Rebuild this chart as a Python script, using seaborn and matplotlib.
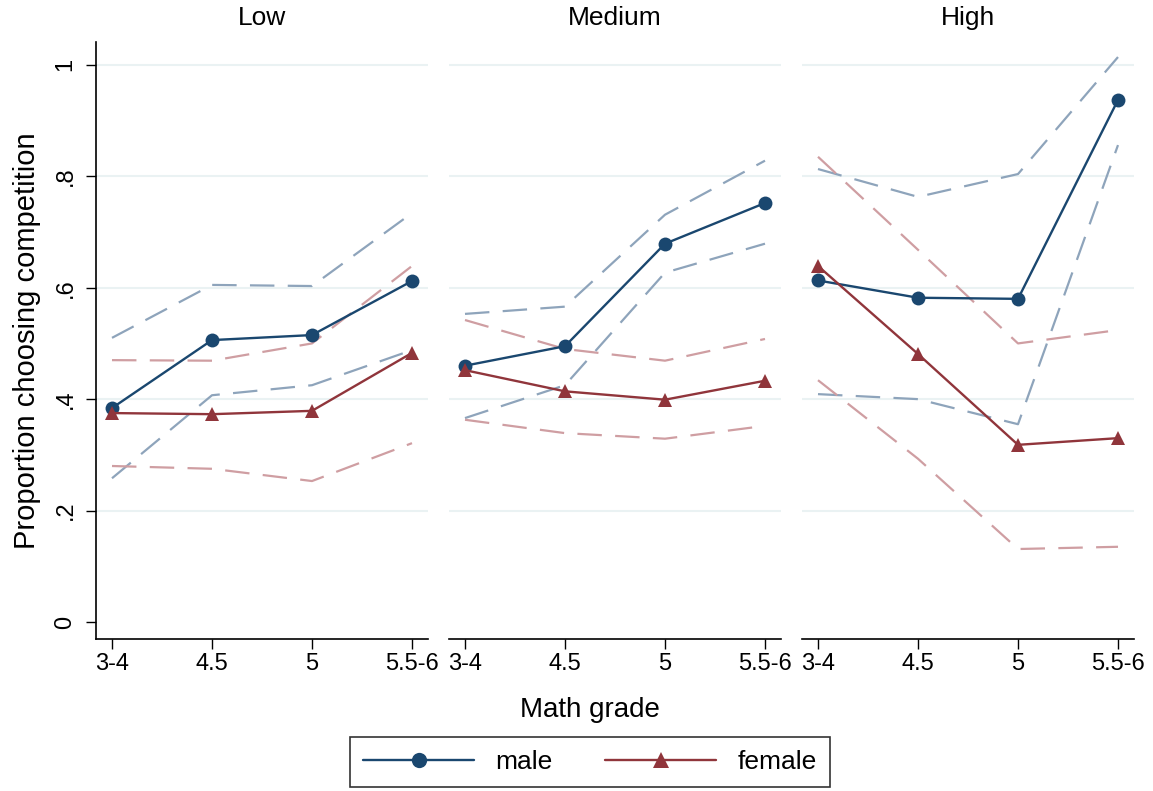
import matplotlib
matplotlib.use("Agg")
import matplotlib.pyplot as plt
from matplotlib.lines import Line2D
import seaborn as sns
import pandas as pd

grades = ["3-4", "4.5", "5", "5.5-6"]
panels = ["Low", "Medium", "High"]

male_mean = {
    "Low": [0.384, 0.506, 0.515, 0.612],
    "Medium": [0.460, 0.495, 0.679, 0.752],
    "High": [0.613, 0.582, 0.580, 0.937],
}
male_lo = {
    "Low": [0.258, 0.407, 0.425, 0.488],
    "Medium": [0.366, 0.425, 0.627, 0.679],
    "High": [0.409, 0.400, 0.355, 0.856],
}
male_hi = {
    "Low": [0.510, 0.605, 0.603, 0.734],
    "Medium": [0.553, 0.566, 0.731, 0.828],
    "High": [0.813, 0.763, 0.804, 1.014],
}
female_mean = {
    "Low": [0.375, 0.373, 0.379, 0.483],
    "Medium": [0.452, 0.414, 0.399, 0.433],
    "High": [0.639, 0.481, 0.318, 0.330],
}
female_lo = {
    "Low": [0.280, 0.275, 0.253, 0.321],
    "Medium": [0.363, 0.339, 0.329, 0.352],
    "High": [0.434, 0.293, 0.131, 0.135],
}
female_hi = {
    "Low": [0.470, 0.469, 0.500, 0.639],
    "Medium": [0.542, 0.490, 0.469, 0.508],
    "High": [0.835, 0.668, 0.500, 0.524],
}

rows = []
for p in panels:
    for sex, m, lo, hi in [("male", male_mean, male_lo, male_hi),
                           ("female", female_mean, female_lo, female_hi)]:
        for i, g in enumerate(grades):
            rows.append(dict(panel=p, sex=sex, grade=g,
                             mean=m[p][i], lo=lo[p][i], hi=hi[p][i]))
df = pd.DataFrame(rows)

sns.set_theme(style="white")
plt.rcParams["font.family"] = ["Liberation Sans", "DejaVu Sans"]
plt.rcParams["text.color"] = "black"
plt.rcParams["xtick.color"] = "black"
plt.rcParams["ytick.color"] = "black"
plt.rcParams["axes.labelcolor"] = "black"

navy = "#1a476f"
maroon = "#90353b"
ci_colors = {"male": "#8ea4bb", "female": "#cf9ea2"}
colors = {"male": navy, "female": maroon}

fig = plt.figure(figsize=(11.53, 7.91), dpi=100)
lefts = [96, 449, 802]
axes = []
for k, p in enumerate(panels):
    ax = fig.add_axes([lefts[k] / 1153, 152 / 791, 332 / 1153, 597 / 791])
    axes.append(ax)
    sub = df[df["panel"] == p]
    # confidence bands as dashed lines
    for col in ["hi", "lo"]:
        for sex in ["male", "female"]:
            s = sub[sub["sex"] == sex]
            sns.lineplot(data=s, x="grade", y=col, ax=ax, color=ci_colors[sex],
                         linewidth=1.6, dashes=False, legend=False, sort=False)
            ax.lines[-1].set_dashes([11, 6])
    sns.lineplot(data=sub, x="grade", y="mean", hue="sex", style="sex",
                 palette=colors, markers={"male": "o", "female": "^"},
                 dashes=False, markersize=10, markeredgewidth=0,
                 linewidth=1.7, ax=ax, legend=False, sort=False)

    for yv in [0.2, 0.4, 0.6, 0.8, 1.0]:
        ax.axhline(yv, color="#eaf2f3", linewidth=1.5, zorder=0)
    ax.set_ylim(-0.0305, 1.041)
    ax.set_xlim(-0.16, 3.16)
    ax.set_title(p, fontsize=19, pad=12)
    ax.set_xlabel("")
    ax.set_ylabel("")
    ax.tick_params(axis="x", direction="out", length=7, width=1,
                   labelsize=17, bottom=True, pad=3)
    for side in ["top", "right"]:
        ax.spines[side].set_visible(False)
    ax.spines["bottom"].set_color("black")
    ax.spines["bottom"].set_linewidth(1.2)
    if k == 0:
        ax.spines["left"].set_color("black")
        ax.spines["left"].set_linewidth(1.2)
        ax.set_yticks([0, 0.2, 0.4, 0.6, 0.8, 1.0])
        ax.set_yticklabels(["0", ".2", ".4", ".6", ".8", "1"], rotation=90,
                           va="center")
        ax.tick_params(axis="y", direction="out", length=7, width=1,
                       labelsize=17, left=True, pad=7)
        ax.set_ylabel("Proportion choosing competition", fontsize=21,
                      labelpad=10)
    else:
        ax.spines["left"].set_visible(False)
        ax.set_yticks([])
    ax.set_facecolor("white")

fig.text(590 / 1153, 1 - 710 / 791, "Math grade", ha="center",
         va="center", fontsize=20)

handles = [
    Line2D([], [], color=navy, marker="o", markersize=11, linewidth=1.7,
           markeredgewidth=0),
    Line2D([], [], color=maroon, marker="^", markersize=11, linewidth=1.7,
           markeredgewidth=0),
]
leg = fig.legend(handles, ["male", "female"], loc="center",
                 bbox_to_anchor=(590 / 1153, 1 - 762 / 791), ncol=2,
                 fontsize=19, handlelength=4.2, columnspacing=2.0,
                 handletextpad=0.8, frameon=True, fancybox=False,
                 borderpad=0.5, borderaxespad=0)
leg.get_frame().set_edgecolor("black")
leg.get_frame().set_linewidth(1.2)

fig.savefig("out.png", dpi=100)
